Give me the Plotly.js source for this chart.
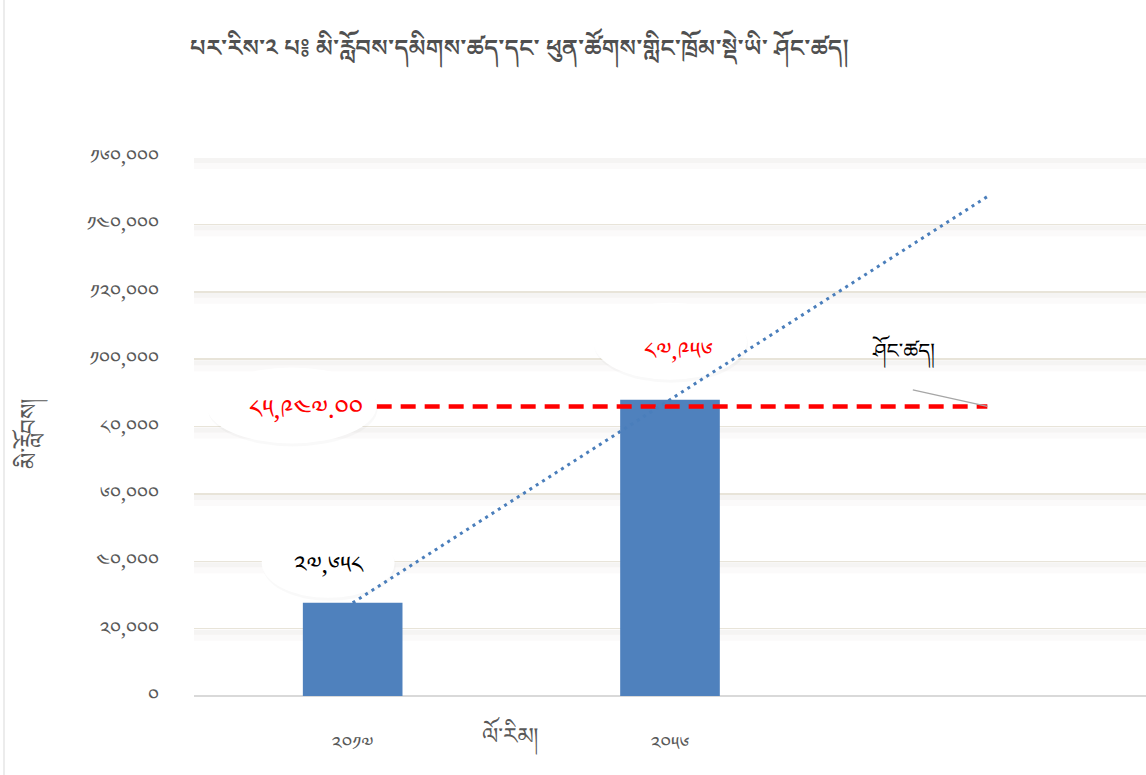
<!DOCTYPE html>
<html><head><meta charset="utf-8">
<script src="https://cdn.plot.ly/plotly-3.0.1.min.js"></script>
<style>body{margin:0;background:#fff}#chart{width:1146px;height:775px}</style>
</head><body><div id="chart"></div>
<script>
const years = ['༢༠༡༧', '༢༠༥༦'];
const population = [27658, 87956];
const populationLabels = ['༢༧,༦༥༨', '༨༧,༩༥༦'];
const capacity = 85947;
const capacityLabel = '༨༥,༩༤༧.༠༠';
const yTickValues = [0, 20000, 40000, 60000, 80000, 100000, 120000, 140000, 160000];
const yTickLabels = ['༠', '༢༠,༠༠༠', '༤༠,༠༠༠', '༦༠,༠༠༠', '༨༠,༠༠༠', '༡༠༠,༠༠༠', '༡༢༠,༠༠༠', '༡༤༠,༠༠༠', '༡༦༠,༠༠༠'];
const titleText = 'པར་རིས་༢ པ༔ མི་རློབས་དམིགས་ཚད་དང་ ཕུན་ཚོགས་གླིང་ཁྲོམ་སྡེ་ཡི་ ཤོང་ཚད།';
const yTitle = 'མི་རློབས།';
const xTitle = 'ལོ་རིམ།';
const capacityName = 'ཤོང་ཚད།';

const FONT = '"Noto Sans Tibetan","Noto Serif Tibetan",Jomolhari,"Microsoft Himalaya","DejaVu Sans",sans-serif';
const xs = population.map((_, i) => i);
// linear trend (least squares), extended one period forward
const n = xs.length, mx = xs.reduce((a,b)=>a+b,0)/n, my = population.reduce((a,b)=>a+b,0)/n;
let sxy = 0, sxx = 0;
xs.forEach((x,i)=>{sxy += (x-mx)*(population[i]-my); sxx += (x-mx)*(x-mx);});
const slope = sxy/sxx, icpt = my - slope*mx;
const trendX = [0, 1, 2];
const trendY = trendX.map(x => icpt + slope*x);

const traces = [
  {type:'bar', x: xs, y: population, width: 0.314, marker:{color:'#4f81bd'}, hoverinfo:'skip'},
  {type:'scatter', mode:'lines', x:[0, 2], y:[capacity, capacity], line:{color:'#ff0000', width:4.5, dash:'15px,9px'}, hoverinfo:'skip'},
  {type:'scatter', mode:'lines', x: trendX, y: trendY, line:{color:'#4a7ebb', width:3, dash:'3px,4.5px'}, hoverinfo:'skip'}
];

const shapes = [];
yTickValues.forEach(v => {
  if (v === 0) return;
  shapes.push({type:'rect', layer:'below', xref:'paper', x0:0, x1:1, yref:'y', ysizemode:'pixel', yanchor:v, y0:-1, y1:-6, line:{width:0}, fillcolor:'rgba(200,196,186,0.18)'});
  shapes.push({type:'rect', layer:'below', xref:'paper', x0:0, x1:1, yref:'y', ysizemode:'pixel', yanchor:v, y0:-6, y1:-12, line:{width:0}, fillcolor:'rgba(200,196,186,0.08)'});
});
function ellipse(layer, xa, ya, x0, x1, y0, y1) {
  shapes.push({type:'circle', layer:layer, xref:'x', yref:'y', xsizemode:'pixel', ysizemode:'pixel', xanchor:xa, yanchor:ya, x0:x0+1, x1:x1+1, y0:y0-3, y1:y1-3, line:{width:0}, fillcolor:'rgba(0,0,0,0.025)'});
  shapes.push({type:'circle', layer:layer, xref:'x', yref:'y', xsizemode:'pixel', ysizemode:'pixel', xanchor:xa, yanchor:ya, x0:x0, x1:x1, y0:y0, y1:y1, line:{width:0}, fillcolor:'#ffffff'});
}
ellipse('above', 0, capacity, -146, 24, 39, -37);
ellipse('between', 1, population[1], -77, 77, 97, 20);
ellipse('between', 0, population[0], -91, 42, 75, 5);
// left frame line
shapes.push({type:'line', xref:'paper', yref:'paper', x0:-190/952, x1:-190/952, y0:-79/539, y1:(157)/539+1, line:{color:'#d9d9d9', width:1}});

const annotations = [
  {x:0, y:capacity, xref:'x', yref:'y', text:capacityLabel, showarrow:false, xshift:-47, yshift:-10, font:{family:FONT, size:26, color:'#ff0000'}},
  {x:1, y:population[1], xref:'x', yref:'y', text:populationLabels[1], showarrow:false, xshift:8, yshift:42, font:{family:FONT, size:24, color:'#ff0000'}},
  {x:0, y:population[0], xref:'x', yref:'y', text:populationLabels[0], showarrow:false, xshift:-24, yshift:31, font:{family:FONT, size:24, color:'#000000'}},
  {x:2, y:capacity, xref:'x', yref:'y', text:capacityName, showarrow:false, xshift:-84, yshift:50, font:{family:FONT, size:21, color:'#000000'}},
  {x:2, y:capacity, xref:'x', yref:'y', text:'', showarrow:true, arrowhead:0, arrowwidth:1.3, arrowcolor:'#a6a6a6', ax:-76, ay:-17, standoff:0},
  {xref:'paper', yref:'paper', x:(35-194)/952, y:(696-434)/539, xanchor:'center', yanchor:'middle', text:yTitle, textangle:-90, showarrow:false, font:{family:FONT, size:23, color:'#595959'}},
  {xref:'paper', yref:'paper', x:(510-194)/952, y:-(742-696)/539, xanchor:'center', yanchor:'middle', text:xTitle, showarrow:false, font:{family:FONT, size:23, color:'#595959'}}
];

const layout = {
  width:1146, height:775,
  margin:{l:194, r:0, t:157, b:79},
  paper_bgcolor:'#ffffff', plot_bgcolor:'#ffffff',
  showlegend:false,
  title:{text:titleText, x:190/1146, xanchor:'left', xref:'container', y:1-48/775, yanchor:'middle', yref:'container', font:{family:FONT, size:24, color:'#505050', weight:600}},
  xaxis:{range:[-0.5, 2.5], tickvals:xs, ticktext:years, showgrid:false, zeroline:false, showline:false, ticks:'outside', ticklen:30, tickcolor:'rgba(0,0,0,0)', tickfont:{family:FONT, size:19, color:'#595959'}, fixedrange:true},
  yaxis:{range:[0, 160000], tickvals:yTickValues, ticktext:yTickLabels, showgrid:true, gridcolor:'#e8e4d9', gridwidth:1.5, zeroline:true, zerolinecolor:'#d9d9d9', zerolinewidth:1.5, showline:false, ticks:'outside', ticklen:30, tickcolor:'rgba(0,0,0,0)', tickfont:{family:FONT, size:20, color:'#595959'}, fixedrange:true},
  shapes: shapes, annotations: annotations
};
Plotly.newPlot('chart', traces, layout, {displayModeBar:false, staticPlot:true});
</script></body></html>
